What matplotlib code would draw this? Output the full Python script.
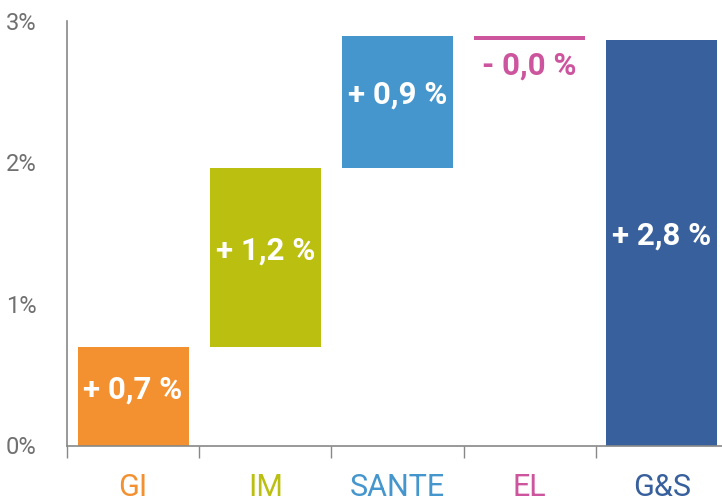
import numpy as np
import matplotlib.pyplot as plt

# waterfall values (percent)
categories = ['GI', 'IM', 'SANTE', 'EL', 'G&S']
bottoms = [0.0, 0.696, 1.961, 2.861, 0.0]
heights = [0.696, 1.265, 0.933, 0.033, 2.859]
value_labels = ['+ 0,7 %', '+ 1,2 %', '+ 0,9 %', '- 0,0 %', '+ 2,8 %']
colors = ['#F39030', '#BBBF10', '#4696CE', '#CC559E', '#37609C']
y_ticks = [0, 1, 2, 3]
y_ticklabels = ['0%', '1%', '2%', '3%']

plt.rcParams['font.family'] = ['Roboto', 'DejaVu Sans']

fig = plt.figure(figsize=(7.22, 5.01), dpi=100)
ax = fig.add_axes([67 / 722, 55.5 / 501, 661 / 722, 425 / 501])

x = np.arange(len(categories))
ax.bar(x, heights, bottom=bottoms, width=0.84, color=colors, linewidth=0)

for i in range(len(categories)):
    if categories[i] == 'EL':
        ax.text(x[i], bottoms[i] - 0.07, value_labels[i], color=colors[i],
                ha='center', va='top', fontsize=22.5, fontweight='bold')
    else:
        ax.text(x[i], bottoms[i] + heights[i] / 2 + 0.05, value_labels[i], color='white',
                ha='center', va='center', fontsize=22.5, fontweight='bold')

ax.set_xlim(-0.5, len(categories) - 0.5)
ax.set_ylim(0, 3)

ax.set_yticks(y_ticks)
ax.set_yticklabels(y_ticklabels, fontsize=17, color='#707070')
ax.tick_params(axis='y', length=0, pad=22)

# boundaries ticks (major), category labels on minor ticks
ax.set_xticks(np.arange(len(categories) + 1) - 0.5)
ax.set_xticklabels([])
ax.tick_params(axis='x', which='major', length=8.5, width=1, color='#888888', direction='out')
ax.set_xticks(x, minor=True)
ax.set_xticklabels(categories, minor=True, fontsize=22)
ax.tick_params(axis='x', which='minor', length=0, pad=20)
for lbl, c in zip(ax.get_xticklabels(minor=True), colors):
    lbl.set_color(c)

for s in ['top', 'right']:
    ax.spines[s].set_visible(False)
ax.spines['left'].set_color('#888888')
ax.spines['bottom'].set_color('#888888')
ax.spines['left'].set_linewidth(1.2)
ax.spines['bottom'].set_linewidth(1.2)

fig.savefig('out.png', dpi=100)
